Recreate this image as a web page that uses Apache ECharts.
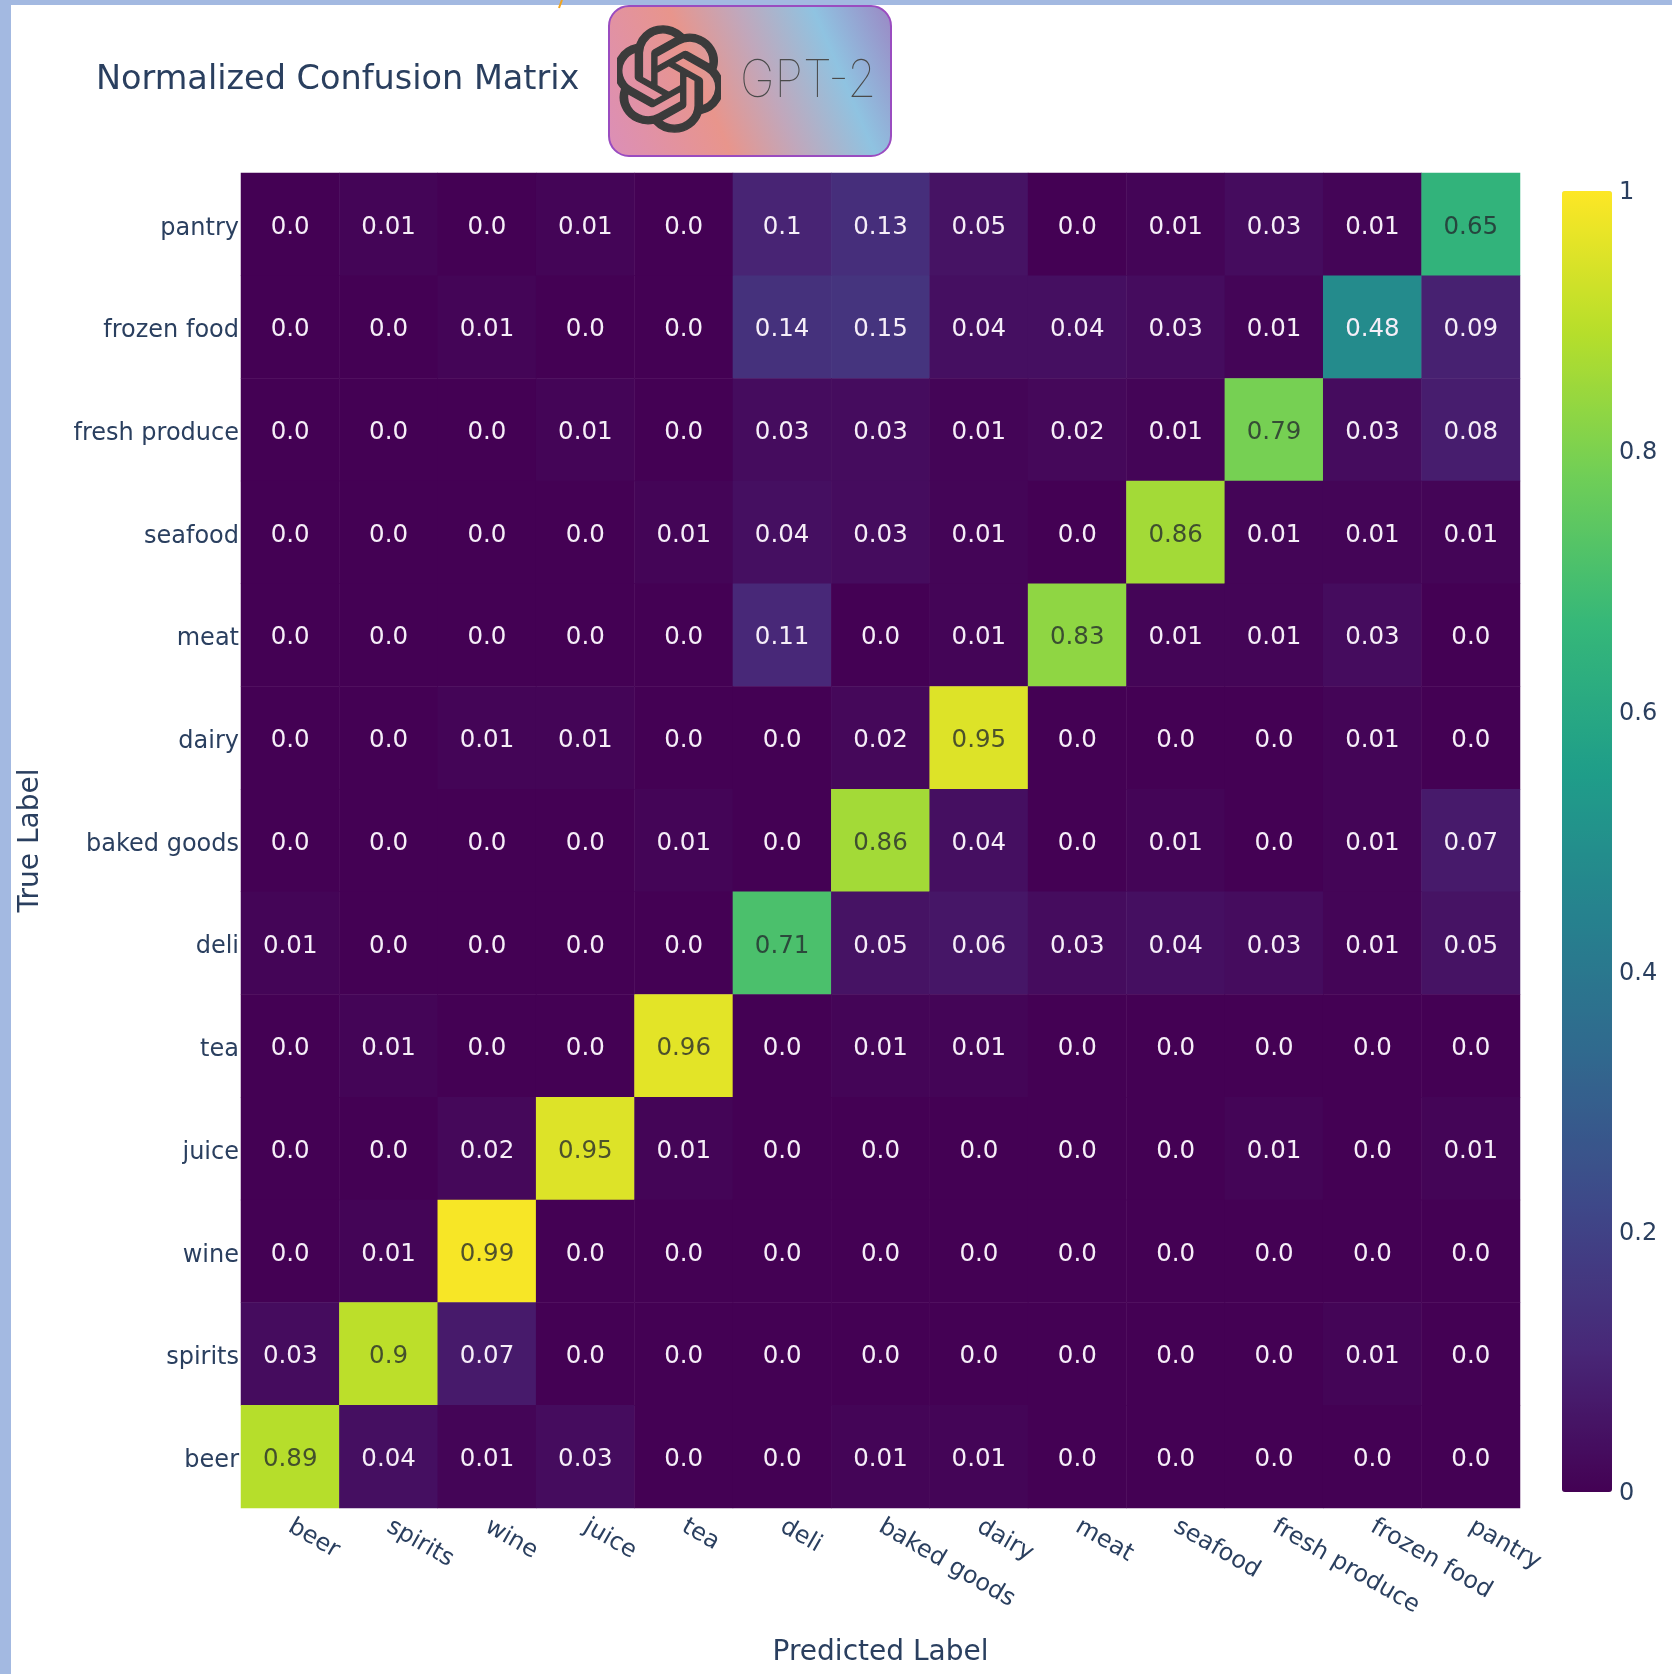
<!DOCTYPE html>
<html>
<head>
<meta charset="utf-8">
<script src="https://cdn.jsdelivr.net/npm/echarts@6/dist/echarts.min.js"></script>
<style>
  html, body { margin: 0; padding: 0; background: #ffffff; }
  #chart { width: 1672px; height: 1674px; }
</style>
</head>
<body>
<div id="chart"></div>
<script>
// Class names, left-to-right on the x axis and bottom-to-top on the y axis
const categories = ['beer', 'spirits', 'wine', 'juice', 'tea', 'deli', 'baked goods',
  'dairy', 'meat', 'seafood', 'fresh produce', 'frozen food', 'pantry'];

// One row per true label (top row of the matrix first); columns follow `categories`
const rowPantry       = [0.0, 0.01, 0.0, 0.01, 0.0, 0.1, 0.13, 0.05, 0.0, 0.01, 0.03, 0.01, 0.65];
const rowFrozenFood   = [0.0, 0.0, 0.01, 0.0, 0.0, 0.14, 0.15, 0.04, 0.04, 0.03, 0.01, 0.48, 0.09];
const rowFreshProduce = [0.0, 0.0, 0.0, 0.01, 0.0, 0.03, 0.03, 0.01, 0.02, 0.01, 0.79, 0.03, 0.08];
const rowSeafood      = [0.0, 0.0, 0.0, 0.0, 0.01, 0.04, 0.03, 0.01, 0.0, 0.86, 0.01, 0.01, 0.01];
const rowMeat         = [0.0, 0.0, 0.0, 0.0, 0.0, 0.11, 0.0, 0.01, 0.83, 0.01, 0.01, 0.03, 0.0];
const rowDairy        = [0.0, 0.0, 0.01, 0.01, 0.0, 0.0, 0.02, 0.95, 0.0, 0.0, 0.0, 0.01, 0.0];
const rowBakedGoods   = [0.0, 0.0, 0.0, 0.0, 0.01, 0.0, 0.86, 0.04, 0.0, 0.01, 0.0, 0.01, 0.07];
const rowDeli         = [0.01, 0.0, 0.0, 0.0, 0.0, 0.71, 0.05, 0.06, 0.03, 0.04, 0.03, 0.01, 0.05];
const rowTea          = [0.0, 0.01, 0.0, 0.0, 0.96, 0.0, 0.01, 0.01, 0.0, 0.0, 0.0, 0.0, 0.0];
const rowJuice        = [0.0, 0.0, 0.02, 0.95, 0.01, 0.0, 0.0, 0.0, 0.0, 0.0, 0.01, 0.0, 0.01];
const rowWine         = [0.0, 0.01, 0.99, 0.0, 0.0, 0.0, 0.0, 0.0, 0.0, 0.0, 0.0, 0.0, 0.0];
const rowSpirits      = [0.03, 0.9, 0.07, 0.0, 0.0, 0.0, 0.0, 0.0, 0.0, 0.0, 0.0, 0.01, 0.0];
const rowBeer         = [0.89, 0.04, 0.01, 0.03, 0.0, 0.0, 0.01, 0.01, 0.0, 0.0, 0.0, 0.0, 0.0];

const matrixTopDown = [rowPantry, rowFrozenFood, rowFreshProduce, rowSeafood, rowMeat, rowDairy,
  rowBakedGoods, rowDeli, rowTea, rowJuice, rowWine, rowSpirits, rowBeer];

// Colour bar ticks
const colorbarTicks = [0, 0.2, 0.4, 0.6, 0.8, 1];

// Viridis stops (evenly spaced)
const viridis = ['#440154', '#482878', '#3e4989', '#31688e', '#26828e',
  '#1f9e89', '#35b779', '#6ece58', '#b5de2b', '#fde725'];

const FONT = "'DejaVu Sans', Verdana, sans-serif";
const INK = '#2a3f5f';

function fmt(v) {
  const s = v.toFixed(2);
  return s.endsWith('0') ? v.toFixed(1) : s;
}

const n = categories.length;
const cells = [];
matrixTopDown.forEach((row, r) => {
  const yi = n - 1 - r;
  row.forEach((v, xi) => {
    cells.push({
      value: [xi, yi, v],
      label: { color: v > 0.5 ? 'rgba(35,40,45,0.78)' : '#f6eef8' }
    });
  });
});

// OpenAI knot mark (24x24 icon path), used as an inline SVG image
const knotPath = 'M22.2819 9.8211a5.9847 5.9847 0 0 0-.5157-4.9108 6.0462 6.0462 0 0 0-6.5098-2.9A6.0651 6.0651 0 0 0 4.9807 4.1818a5.9847 5.9847 0 0 0-3.9977 2.9 6.0462 6.0462 0 0 0 .7427 7.0966 5.98 5.98 0 0 0 .511 4.9107 6.051 6.051 0 0 0 6.5146 2.9001A5.9847 5.9847 0 0 0 13.2599 24a6.0557 6.0557 0 0 0 5.7718-4.2058 5.9894 5.9894 0 0 0 3.9977-2.9001 6.0557 6.0557 0 0 0-.7475-7.0729zm-9.022 12.6081a4.4755 4.4755 0 0 1-2.8764-1.0408l.1419-.0804 4.7783-2.7582a.7948.7948 0 0 0 .3927-.6813v-6.7369l2.02 1.1686a.071.071 0 0 1 .038.052v5.5826a4.504 4.504 0 0 1-4.4945 4.4944zm-9.6607-4.1254a4.4708 4.4708 0 0 1-.5346-3.0137l.142.0852 4.783 2.7582a.7712.7712 0 0 0 .7806 0l5.8428-3.3685v2.3324a.0804.0804 0 0 1-.0332.0615L9.74 19.9502a4.4992 4.4992 0 0 1-6.1408-1.6464zM2.3408 7.8956a4.485 4.485 0 0 1 2.3655-1.9728V11.6a.7664.7664 0 0 0 .3879.6765l5.8144 3.3543-2.0201 1.1685a.0757.0757 0 0 1-.071 0l-4.8303-2.7865A4.504 4.504 0 0 1 2.3408 7.872zm16.5963 3.8558L13.1038 8.364 15.1192 7.2a.0757.0757 0 0 1 .071 0l4.8303 2.7913a4.4944 4.4944 0 0 1-.6765 8.1042v-5.6772a.79.79 0 0 0-.407-.667zm2.0107-3.0231l-.142-.0852-4.7735-2.7818a.7759.7759 0 0 0-.7854 0L9.409 9.2297V6.8974a.0662.0662 0 0 1 .0284-.0615l4.8303-2.7866a4.4992 4.4992 0 0 1 6.6802 4.66zM8.3065 12.863l-2.02-1.1638a.0804.0804 0 0 1-.038-.0567V6.0742a4.4992 4.4992 0 0 1 7.3757-3.4537l-.142.0805L8.704 5.459a.7948.7948 0 0 0-.3927.6813zm1.0976-2.3654l2.602-1.4998 2.6069 1.4998v2.9994l-2.5974 1.4997-2.6067-1.4997Z';
const knotSvg = 'data:image/svg+xml;charset=utf-8,' + encodeURIComponent(
  '<svg xmlns="http://www.w3.org/2000/svg" viewBox="0.7 -0.2 22.7 24.4" width="227" height="244">' +
  '<path fill="#3b3b3b" stroke="#3b3b3b" stroke-width="0.3" stroke-linejoin="round" d="' + knotPath + '"/></svg>');

const chart = echarts.init(document.getElementById('chart'), null, { renderer: 'canvas' });

chart.setOption({
  backgroundColor: '#ffffff',
  animation: false,
  textStyle: { fontFamily: FONT },
  title: {
    text: 'Normalized Confusion Matrix',
    left: 96,
    top: 63,
    padding: 0,
    textStyle: { fontFamily: FONT, fontSize: 33.5, fontWeight: 'normal', color: INK }
  },
  grid: [
    { left: 241, top: 173, width: 1279, height: 1335, containLabel: false },
    { left: 1562, top: 191, width: 50, height: 1301, containLabel: false }
  ],
  xAxis: [
    {
      type: 'category', gridIndex: 0, data: categories,
      axisLine: { show: false }, axisTick: { show: false }, splitLine: { show: false },
      axisLabel: { rotate: -30, margin: 17, fontSize: 24, color: INK, fontFamily: FONT, interval: 0 },
      name: 'Predicted Label', nameLocation: 'middle', nameGap: 131,
      nameTextStyle: { fontSize: 28, color: INK, fontFamily: FONT }
    },
    { type: 'value', gridIndex: 1, show: false, min: 0, max: 1 }
  ],
  yAxis: [
    {
      type: 'category', gridIndex: 0, data: categories,
      axisLine: { show: false }, axisTick: { show: false }, splitLine: { show: false },
      axisLabel: {
        margin: 2, interval: 0,
        formatter: v => '{t|' + v + '}',
        rich: { t: { fontSize: 24, color: INK, fontFamily: FONT, padding: [8, 0, 0, 0] } }
      },
      name: 'True Label', nameLocation: 'middle', nameGap: 196, nameRotate: 90,
      nameTextStyle: { fontSize: 28, color: INK, fontFamily: FONT }
    },
    {
      type: 'value', gridIndex: 1, position: 'right', min: 0, max: 1,
      interval: colorbarTicks[1] - colorbarTicks[0],
      axisLine: { show: false }, axisTick: { show: false }, splitLine: { show: false },
      axisLabel: {
        margin: 7,
        formatter: v => '{t|' + v + '}',
        rich: { t: { fontSize: 24, color: INK, fontFamily: FONT, padding: [4, 0, 0, 0] } }
      }
    }
  ],
  visualMap: {
    type: 'continuous',
    seriesIndex: 0,
    min: 0, max: 1,
    calculable: false,
    showLabel: false,
    orient: 'vertical',
    left: 1562, top: 191,
    padding: 0,
    itemWidth: 50,
    itemHeight: 1301,
    inRange: { color: viridis }
  },
  series: [
    {
      type: 'heatmap',
      xAxisIndex: 0, yAxisIndex: 0,
      data: cells,
      itemStyle: { borderWidth: 0 },
      label: {
        show: true,
        fontSize: 24.5,
        fontFamily: FONT,
        offset: [0, 3],
        formatter: p => fmt(p.value[2])
      },
      emphasis: { disabled: true }
    }
  ],
  graphic: [
    // page frame strips
    { type: 'rect', shape: { x: 0, y: 0, width: 11, height: 1674 }, style: { fill: '#a3b9e1' }, silent: true },
    { type: 'rect', shape: { x: 0, y: 0, width: 1672, height: 5 }, style: { fill: '#a3b9e1' }, silent: true },
    { type: 'line', shape: { x1: 562, y1: 0, x2: 559, y2: 8 }, style: { stroke: '#f2a51e', lineWidth: 2 }, silent: true },
    // model badge
    {
      type: 'rect',
      shape: { x: 609, y: 6, width: 282, height: 150, r: 20 },
      style: {
        fill: new echarts.graphic.LinearGradient(0, 0.9, 1, 0.1, [
          { offset: 0, color: '#dc8fb6' },
          { offset: 0.35, color: '#e8958c' },
          { offset: 0.55, color: '#c1a7bb' },
          { offset: 0.78, color: '#8fc3e1' },
          { offset: 1, color: '#9a8cc6' }
        ]),
        stroke: '#9a4cc0',
        lineWidth: 2
      },
      silent: true
    },
    {
      type: 'image',
      style: { image: knotSvg, x: 617, y: 25, width: 104, height: 108 },
      silent: true
    },
    {
      type: 'text',
      x: 740, y: 81,
      scaleX: 0.9,
      style: {
        text: 'GPT-2',
        fontFamily: "Inter, 'Open Sans', sans-serif",
        fontWeight: 100,
        fontSize: 52,
        fill: '#4a4a4a',
        verticalAlign: 'middle',
        align: 'left'
      },
      silent: true
    }
  ]
});
</script>
</body>
</html>
